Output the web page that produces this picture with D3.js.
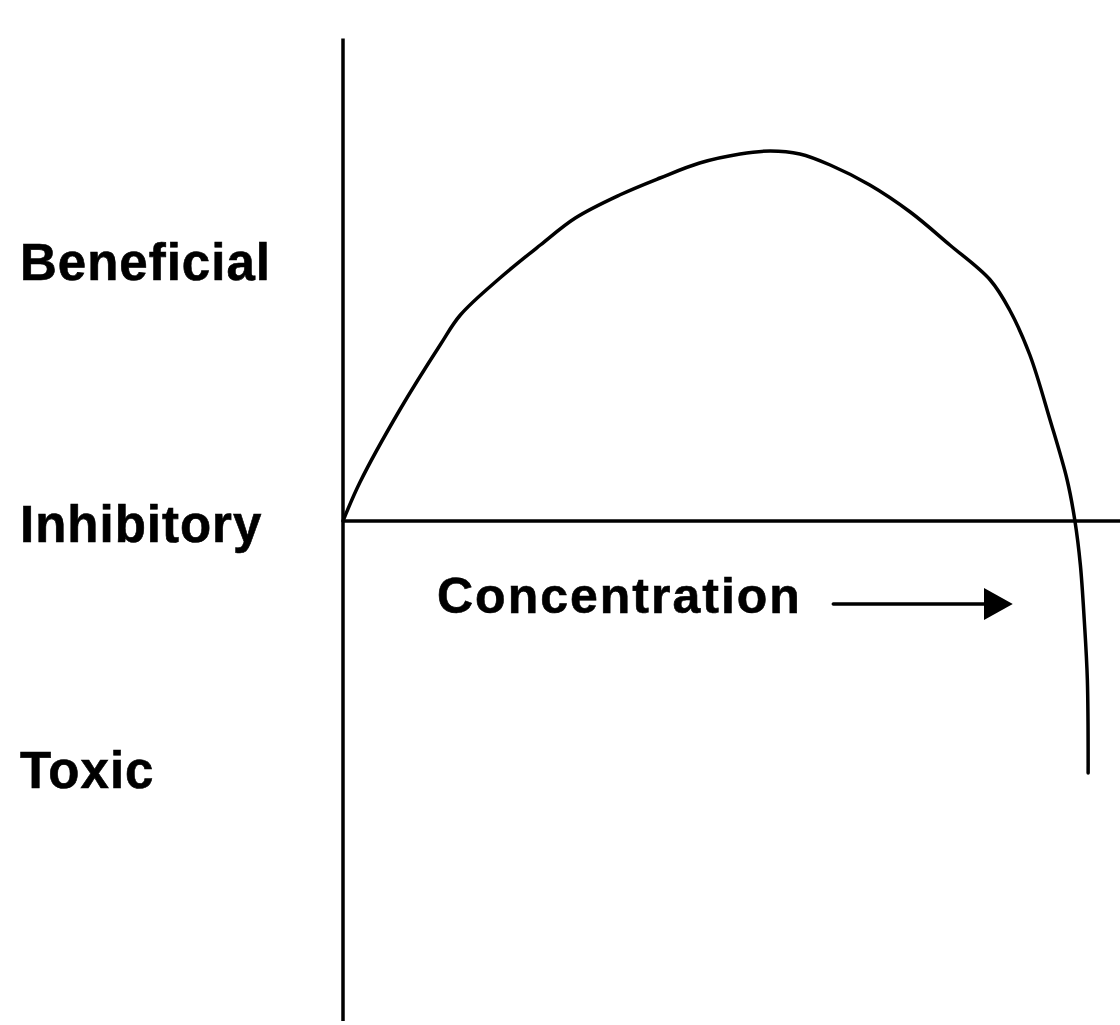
<!DOCTYPE html>
<html lang="en">
<head>
    <meta charset="UTF-8">
    <title>Concentration Response</title>
    <script src="https://d3js.org/d3.v7.min.js"></script>
    <style>
        body { margin: 0; background: white; }
        svg { display: block; }
        .label { font-family: "Liberation Sans", Arial, sans-serif; font-weight: bold; fill: #000; stroke: #000; stroke-width: 0.6px; }
    </style>
</head>
<body>
    <div id="chart"></div>
    <script>
        // Response curve (concentration, response)
        const concentration = [0, 2.2, 7.3, 12.5, 15.1, 20.2, 25.4, 29.9, 35.6, 40.8, 45.9, 51.1, 55.0,
            58.8, 62.7, 67.8, 73.0, 78.1, 83.3, 85.8, 88.4, 91.0, 93.2, 94.2, 94.9, 95.4, 95.8, 95.9];
        const response = [0, 15.6, 44.4, 70.4, 82.4, 97.2, 110.4, 121.2, 130.4, 137.2, 143.2, 146.8, 148,
            146.8, 142.4, 134.4, 123.6, 110.4, 96.4, 84.4, 66.4, 40.4, 16.4, 0, -17.6, -39.6, -63.6, -100.8];

        // Response zones on the left
        const zoneLabels = ["Beneficial", "Inhibitory", "Toxic"];
        const zoneLevels = [96.4, -8.4, -106.8];

        const width = 1120, height = 1025;

        const svg = d3.select("#chart")
            .append("svg")
            .attr("width", width)
            .attr("height", height);

        const x = d3.scaleLinear().domain([0, 100]).range([343, 1120]);
        const y = d3.scaleLinear().domain([-200, 200]).range([1021, 21]);

        // vertical axis
        svg.append("line")
            .attr("x1", x(0)).attr("x2", x(0))
            .attr("y1", y(193)).attr("y2", y(-200))
            .attr("stroke", "#000").attr("stroke-width", 3.5);

        // horizontal axis (zero response)
        svg.append("line")
            .attr("x1", x(0)).attr("x2", x(100))
            .attr("y1", y(0)).attr("y2", y(0))
            .attr("stroke", "#000").attr("stroke-width", 3.5);

        // the curve
        const points = concentration.map((c, i) => [c, response[i]]);
        const line = d3.line()
            .x(d => x(d[0]))
            .y(d => y(d[1]))
            .curve(d3.curveCatmullRom.alpha(0.5));

        svg.append("path")
            .datum(points)
            .attr("d", line)
            .attr("fill", "none")
            .attr("stroke", "#000")
            .attr("stroke-width", 3.5)
            .attr("stroke-linecap", "round");

        // zone labels
        svg.selectAll(".zone")
            .data(zoneLabels)
            .enter()
            .append("text")
            .attr("class", "label zone")
            .attr("x", 20)
            .attr("y", (d, i) => y(zoneLevels[i]))
            .attr("font-size", 51)
            .attr("letter-spacing", 1)
            .text(d => d);

        // x axis title with arrow
        svg.append("text")
            .attr("class", "label")
            .attr("x", 437)
            .attr("y", y(-36.8))
            .attr("font-size", 50)
            .attr("letter-spacing", 2)
            .text("Concentration");

        const arrowY = y(-33.2);
        svg.append("line")
            .attr("x1", x(63.1)).attr("x2", x(83))
            .attr("y1", arrowY).attr("y2", arrowY)
            .attr("stroke", "#000").attr("stroke-width", 3.5)
            .attr("stroke-linecap", "round");

        svg.append("path")
            .attr("d", `M${x(82.5)},${arrowY - 16} L${x(86.2)},${arrowY} L${x(82.5)},${arrowY + 16} Z`)
            .attr("fill", "#000");
    </script>
</body>
</html>
